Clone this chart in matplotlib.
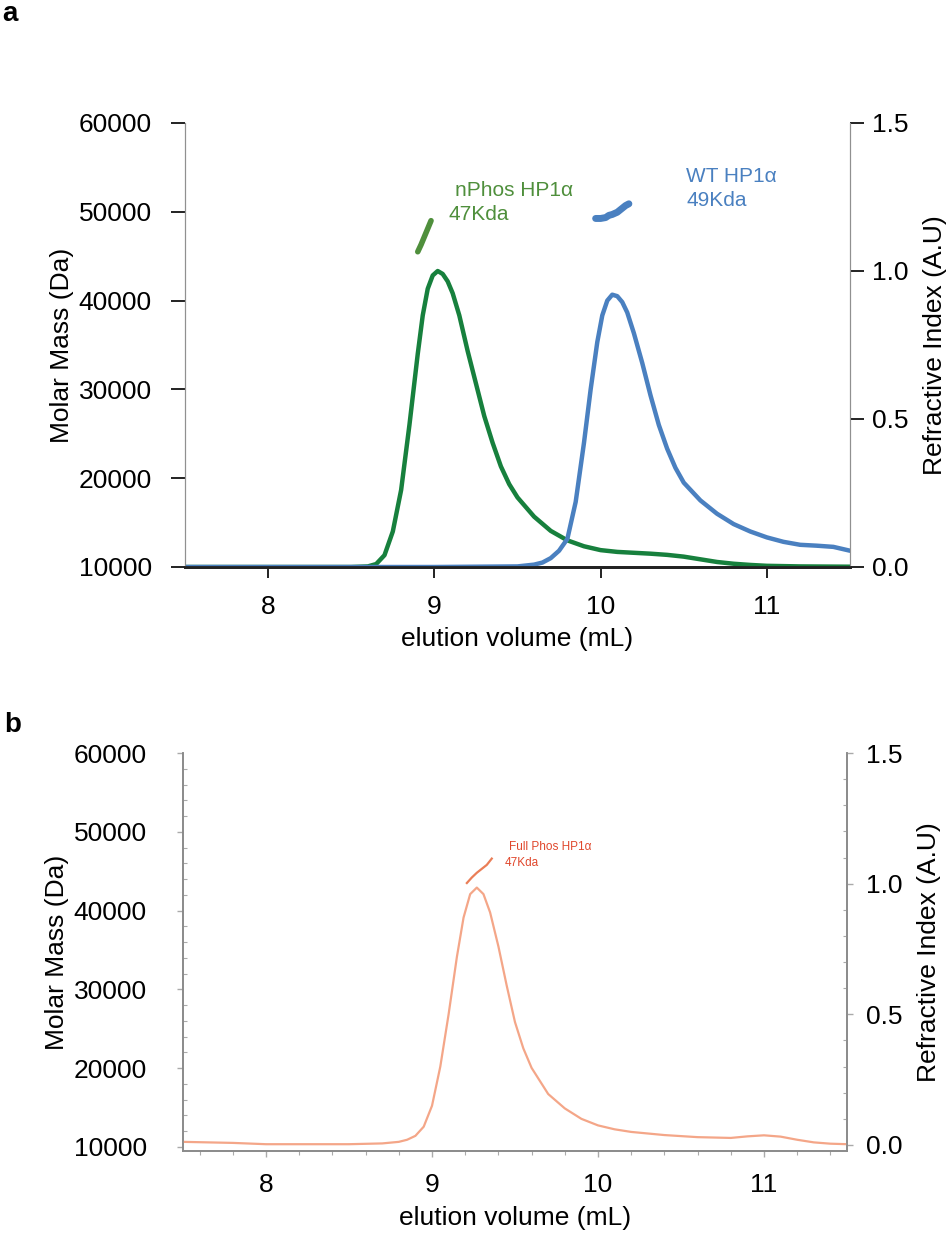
import numpy as np
import matplotlib
matplotlib.use("Agg")
import matplotlib.pyplot as plt
from matplotlib.ticker import MultipleLocator

plt.rcParams['font.family'] = ['Liberation Sans', 'DejaVu Sans']

# --- panel a: refractive index traces (right axis) ---
green_x = [7.5, 8.0, 8.5, 8.6, 8.65, 8.7, 8.75, 8.8, 8.85, 8.9, 8.93, 8.96, 8.99, 9.02, 9.05,
           9.08, 9.11, 9.15, 9.2, 9.25, 9.3, 9.35, 9.4, 9.45, 9.5, 9.6, 9.7, 9.8, 9.9, 10.0,
           10.1, 10.2, 10.3, 10.4, 10.5, 10.6, 10.7, 10.8, 10.9, 11.0, 11.2, 11.5]
green_ri = [0, 0, 0, 0.002, 0.01, 0.04, 0.12, 0.26, 0.48, 0.72, 0.85, 0.94, 0.985, 1.0, 0.99,
            0.965, 0.925, 0.85, 0.73, 0.62, 0.51, 0.42, 0.34, 0.28, 0.235, 0.17, 0.122, 0.09,
            0.07, 0.057, 0.051, 0.048, 0.045, 0.041, 0.035, 0.026, 0.017, 0.011, 0.007, 0.004,
            0.002, 0.001]

blue_x = [7.5, 8.5, 9.0, 9.5, 9.6, 9.65, 9.7, 9.75, 9.8, 9.85, 9.9, 9.94, 9.98, 10.01, 10.04,
          10.07, 10.1, 10.13, 10.16, 10.2, 10.25, 10.3, 10.35, 10.4, 10.45, 10.5, 10.6, 10.7,
          10.8, 10.9, 11.0, 11.1, 11.2, 11.3, 11.4, 11.5]
blue_ri = [0, 0, 0, 0.002, 0.008, 0.015, 0.03, 0.055, 0.095, 0.22, 0.42, 0.6, 0.76, 0.85, 0.9,
           0.92, 0.915, 0.895, 0.86, 0.79, 0.69, 0.58, 0.48, 0.4, 0.335, 0.285, 0.225, 0.18,
           0.145, 0.12, 0.1, 0.085, 0.075, 0.072, 0.068, 0.055]

# --- panel a: molar mass segments (left axis) ---
green_mx = [8.90, 8.92, 8.94, 8.96, 8.98]
green_mass = [45500, 46300, 47200, 48100, 49000]
blue_mx = [9.97, 10.0, 10.03, 10.05, 10.07, 10.1, 10.13, 10.15, 10.17]
blue_mass = [49250, 49250, 49350, 49600, 49700, 49950, 50400, 50700, 50900]

# --- panel b ---
orange_x = [7.5, 7.8, 8.0, 8.5, 8.7, 8.8, 8.85, 8.9, 8.95, 9.0, 9.05, 9.1, 9.15, 9.19, 9.23,
            9.27, 9.31, 9.35, 9.4, 9.45, 9.5, 9.55, 9.6, 9.7, 9.8, 9.9, 10.0, 10.1, 10.2, 10.4,
            10.6, 10.8, 10.9, 11.0, 11.1, 11.2, 11.3, 11.4, 11.5]
orange_ri = [0.012, 0.008, 0.003, 0.003, 0.006, 0.012, 0.02, 0.035, 0.07, 0.15, 0.3, 0.5,
             0.72, 0.87, 0.96, 0.985, 0.96, 0.89, 0.76, 0.61, 0.47, 0.37, 0.295, 0.195, 0.14,
             0.1, 0.075, 0.06, 0.05, 0.038, 0.03, 0.027, 0.033, 0.037, 0.032, 0.02, 0.01,
             0.005, 0.003]
orange_mx = [9.21, 9.24, 9.27, 9.30, 9.33, 9.36]
orange_mass = [43500, 44200, 44800, 45300, 45800, 46600]

mass_ticks = [10000, 20000, 30000, 40000, 50000, 60000]
ri_ticks = [0.0, 0.5, 1.0, 1.5]
vol_ticks = [8, 9, 10, 11]

fig = plt.figure(figsize=(9.46, 12.33), dpi=100)
FS = 19

# ================= panel a =================
ax = fig.add_axes([185/946, 1-567/1233, 665/946, 444/1233])
ax2 = ax.twinx()
ax.set_xlim(7.5, 11.5)
ax.set_ylim(10000, 60000)
ax2.set_ylim(0, 1.5)

ax2.plot(green_x, green_ri, color='#17803d', lw=3.2, solid_capstyle='round',
         solid_joinstyle='round')
ax2.plot(blue_x, blue_ri, color='#4a80c0', lw=3.2, solid_capstyle='round',
         solid_joinstyle='round')
ax.plot(green_mx, green_mass, color='#4f8f3c', lw=4, solid_capstyle='round')
ax.plot(blue_mx, blue_mass, color='#4a80c0', lw=5, solid_capstyle='round')

for a in (ax, ax2):
    a.spines['top'].set_visible(False)
    a.spines['left'].set_color('#909090')
    a.spines['right'].set_color('#909090')
    a.spines['bottom'].set_color('#222222')
    a.spines['bottom'].set_linewidth(2)
ax.set_yticks(mass_ticks)
ax.set_yticklabels([str(t) for t in mass_ticks])
ax2.set_yticks(ri_ticks)
ax2.set_yticklabels(['0.0', '0.5', '1.0', '1.5'])
ax.set_xticks(vol_ticks)
ax.tick_params(axis='y', length=10, width=1.4, color='#222222', pad=14, labelsize=FS)
ax2.tick_params(axis='y', length=10, width=1.4, color='#222222', pad=6, labelsize=FS)
ax.tick_params(axis='x', length=8, width=1.4, color='#222222', pad=12, labelsize=FS)
ax.set_ylabel('Molar Mass (Da)', fontsize=FS, labelpad=3)
ax2.set_ylabel('Refractive Index (A.U)', fontsize=FS, labelpad=10)
ax.set_xlabel('elution volume (mL)', fontsize=FS, labelpad=6)

ax.text(455/946, 1-190/1233, 'nPhos HP1α', transform=fig.transFigure, color='#4f8f3c',
        fontsize=15, va='center', ha='left')
ax.text(448/946, 1-215/1233, '47Kda', transform=fig.transFigure, color='#4f8f3c',
        fontsize=15, va='center', ha='left')
ax.text(686/946, 1-176/1233, 'WT HP1α', transform=fig.transFigure, color='#4a80c0',
        fontsize=15, va='center', ha='left')
ax.text(686/946, 1-200/1233, '49Kda', transform=fig.transFigure, color='#4a80c0',
        fontsize=15, va='center', ha='left')

# ================= panel b =================
bx = fig.add_axes([183/946, 1-1151/1233, 664/946, 398/1233])
bx2 = bx.twinx()
bx.set_xlim(7.5, 11.5)
bx.set_ylim(9492, 60000)
bx2.set_ylim(-0.023, 1.5)

bx2.plot(orange_x, orange_ri, color='#f4a688', lw=1.6, solid_joinstyle='round')
bx.plot(orange_mx, orange_mass, color='#ea7e57', lw=1.6)

for a in (bx, bx2):
    a.spines['top'].set_visible(False)
    for s in ('left', 'right', 'bottom'):
        a.spines[s].set_color('#8a8a8a')
        a.spines[s].set_linewidth(1.2)
bx.set_yticks(mass_ticks)
bx.set_yticklabels([str(t) for t in mass_ticks])
bx.yaxis.set_minor_locator(MultipleLocator(2000))
bx2.set_yticks(ri_ticks)
bx2.set_yticklabels(['0.0', '0.5', '1.0', '1.5'])
bx2.yaxis.set_minor_locator(MultipleLocator(0.1))
bx.set_xticks(vol_ticks)
bx.xaxis.set_minor_locator(MultipleLocator(0.2))
bx.tick_params(axis='y', which='major', length=4, width=1, color='#aaaaaa', pad=22, labelsize=FS)
bx.tick_params(axis='y', which='minor', length=3, width=0.8, color='#aaaaaa', direction='in')
bx2.tick_params(axis='y', which='major', length=4, width=1, color='#aaaaaa', pad=10, labelsize=FS)
bx2.tick_params(axis='y', which='minor', length=3, width=0.8, color='#aaaaaa', direction='in')
bx.tick_params(axis='x', which='major', length=4, width=1, color='#aaaaaa', pad=12, labelsize=FS)
bx.tick_params(axis='x', which='minor', length=3, width=0.8, color='#aaaaaa')
bx.set_ylabel('Molar Mass (Da)', fontsize=FS, labelpad=3)
bx2.set_ylabel('Refractive Index (A.U)', fontsize=FS, labelpad=10)
bx.set_xlabel('elution volume (mL)', fontsize=FS, labelpad=6)

narrow = ['Liberation Sans Narrow', 'Liberation Sans', 'DejaVu Sans']
bx.text(509/946, 1-847/1233, 'Full Phos HP1α', transform=fig.transFigure, color='#e0472c',
        fontsize=8.5, va='center', ha='left', family=narrow)
bx.text(505/946, 1-863/1233, '47Kda', transform=fig.transFigure, color='#e0472c',
        fontsize=8.5, va='center', ha='left', family=narrow)

# panel letters
fig.text(2/946, 1-1/1233, 'a', fontsize=20, fontweight='bold', va='top', ha='left')
fig.text(4/946, 1-712/1233, 'b', fontsize=20, fontweight='bold', va='top', ha='left')

fig.savefig('out.png', dpi=100)
